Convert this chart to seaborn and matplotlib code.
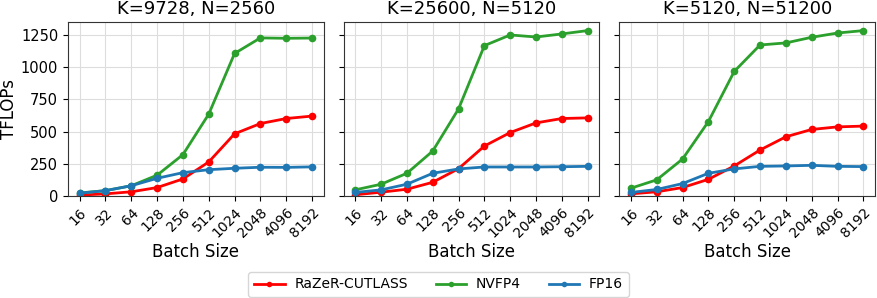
import matplotlib
matplotlib.use("Agg")
import matplotlib.pyplot as plt
import seaborn as sns
import pandas as pd
import numpy as np

batch_sizes = ["16", "32", "64", "128", "256", "512", "1024", "2048", "4096", "8192"]
titles = ["K=9728, N=2560", "K=25600, N=5120", "K=5120, N=51200"]
methods = ["RaZeR-CUTLASS", "NVFP4", "FP16"]
colors = ["#ff0000", "#2ca02c", "#1f77b4"]

razer_p1 = [5, 15, 31, 64, 131, 263, 482, 562, 601, 620]
nvfp4_p1 = [22, 40, 78, 160, 320, 635, 1107, 1228, 1225, 1227]
fp16_p1 = [20, 40, 78, 136, 180, 203, 214, 222, 221, 225]

razer_p2 = [8, 28, 51, 105, 211, 387, 492, 567, 601, 606]
nvfp4_p2 = [46, 90, 175, 348, 676, 1168, 1251, 1235, 1259, 1285]
fp16_p2 = [26, 46, 90, 175, 209, 224, 224, 224, 226, 229]

razer_p3 = [15, 31, 64, 128, 232, 356, 459, 516, 536, 542]
nvfp4_p3 = [59, 124, 286, 577, 967, 1173, 1189, 1233, 1266, 1285]
fp16_p3 = [26, 49, 95, 175, 209, 229, 232, 237, 229, 227]

panels = [
    (razer_p1, nvfp4_p1, fp16_p1),
    (razer_p2, nvfp4_p2, fp16_p2),
    (razer_p3, nvfp4_p3, fp16_p3),
]

fig, axes = plt.subplots(1, 3, figsize=(8.77, 2.98), dpi=100, sharey=True)
fig.subplots_adjust(left=0.0775, right=0.9977, top=0.925, bottom=0.343, wspace=0.078)

for ax, title, series in zip(axes, titles, panels):
    rows = []
    for m, vals in zip(methods, series):
        for i, v in enumerate(vals):
            rows.append({"pos": i, "TFLOPs": v, "method": m})
    df = pd.DataFrame(rows)
    sns.lineplot(data=df, x="pos", y="TFLOPs", hue="method", hue_order=methods,
                 palette=colors, marker="o", markersize=5.5, markeredgewidth=0,
                 linewidth=2, ax=ax, legend=False)
    ax.set_title(title, fontsize=13)
    ax.set_xticks(range(len(batch_sizes)))
    ax.set_xticklabels(batch_sizes, rotation=45, ha="right", rotation_mode="anchor", fontsize=10)
    ax.tick_params(axis="y", labelsize=10.5)
    ax.grid(True, color="#dddddd", linewidth=0.8)
    ax.set_axisbelow(True)
    ax.set_xlabel("Batch Size", fontsize=12, labelpad=2)
    ax.set_ylabel("")
    for s in ax.spines.values():
        s.set_color("#333333")

axes[0].set_ylabel("TFLOPs", fontsize=12, labelpad=2)
axes[0].set_ylim(bottom=0)
axes[0].set_yticks([0, 250, 500, 750, 1000, 1250])

handles = [plt.Line2D([], [], color=c, marker="o", markersize=4, markeredgewidth=0, linewidth=2) for c in colors]
fig.legend(handles, methods, loc="lower center", bbox_to_anchor=(0.5, -0.02), ncol=3,
           fontsize=10, frameon=True, columnspacing=2.0, handlelength=2.2, handletextpad=0.7)

fig.savefig("out.png", dpi=100)
